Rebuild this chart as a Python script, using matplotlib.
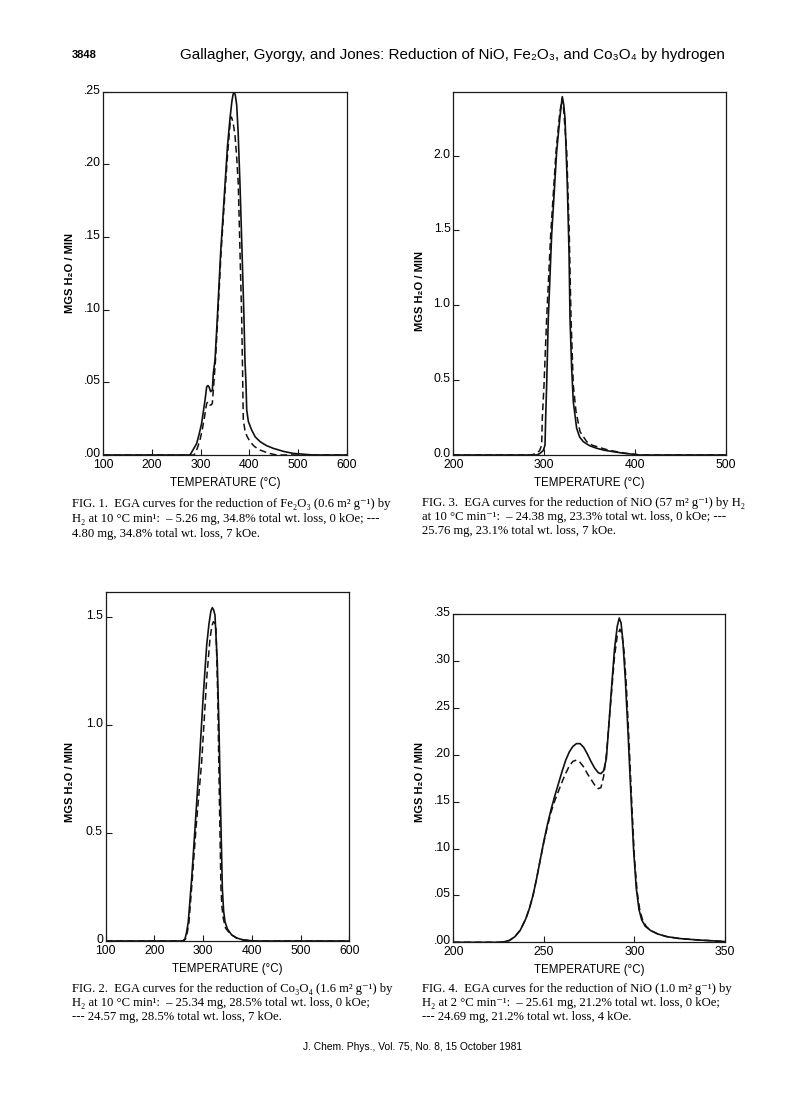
import matplotlib
matplotlib.use('Agg')
import matplotlib.pyplot as plt
import matplotlib.transforms as mtransforms

plt.rcParams['font.family'] = ['Liberation Sans', 'DejaVu Sans']

# ---- FIG. 1  Fe2O3 ----
fig1_t_solid = [100, 278, 281.6, 286, 291.9, 297, 302, 306, 309, 312.4, 315, 317, 320.6, 324, 326, 329.5,
                334.2, 341.2, 350, 355, 360.3, 364, 366.5, 368.5, 371, 374, 377, 380.8, 385, 389,
                391, 393, 394.6, 398, 404.8, 412, 422, 435, 449, 470, 490, 531, 600]
fig1_v_solid = [0, 0, 0.002, 0.0045, 0.008, 0.0145, 0.0218, 0.031, 0.0378, 0.047, 0.0478, 0.047, 0.0436, 0.0447,
                0.0562, 0.0654, 0.094, 0.140, 0.186, 0.212, 0.2317, 0.243, 0.248, 0.2496, 0.248, 0.241, 0.222,
                0.186, 0.140, 0.094, 0.065, 0.050, 0.031, 0.023, 0.0172, 0.0125, 0.0092, 0.0065, 0.0046,
                0.0025, 0.0011, 0, 0]
fig1_t_dash = [100, 286, 288.4, 293, 298.6, 303, 306.9, 312.4, 315.7, 319, 322, 324, 326, 330.5,
               335, 342, 351, 356, 361.7, 364, 367, 370.5, 374, 377.3, 380.8, 384.3, 386.3,
               387.6, 391, 395, 401.4, 410, 422, 440, 456, 600]
fig1_v_dash = [0, 0, 0.001, 0.0045, 0.0103, 0.017, 0.024, 0.0356, 0.0367, 0.0344, 0.0345, 0.0356, 0.0447,
               0.0654, 0.094, 0.140, 0.186, 0.210, 0.2328, 0.232, 0.228, 0.220, 0.205, 0.186, 0.140, 0.094,
               0.053, 0.024, 0.017, 0.013, 0.0092, 0.006, 0.0034, 0.0012, 0, 0]

# ---- FIG. 3  NiO 57 m2/g ----
fig3_t_solid = [200, 292, 295.4, 299, 300.9, 301.6, 302.7, 304.5, 308.2, 313.7, 317.5, 319.9,
                321.5, 322.9, 325.4, 327.3, 328.4, 330.2, 332, 335.7, 339, 343, 350, 357.7,
                366, 376, 387, 398, 405, 500]
fig3_v_solid = [0, 0, 0.011, 0.03, 0.067, 0.245, 0.468, 0.913, 1.47, 2.026, 2.27, 2.394,
                2.34, 2.249, 1.804, 1.358, 0.913, 0.579, 0.356, 0.178, 0.12, 0.089, 0.062, 0.045,
                0.032, 0.022, 0.012, 0.005, 0, 0]
fig3_t_dash = [200, 284.5, 288, 291.7, 295, 297.2, 297.9, 299.8, 302.7, 307.1, 313, 317, 319.6,
               321, 324.8, 327.6, 329.5, 332, 335, 339.4, 346.8, 353, 361.4, 370, 379.7,
               390, 400, 406, 500]
fig3_v_dash = [0, 0, 0.004, 0.011, 0.03, 0.067, 0.245, 0.468, 0.913, 1.47, 2.026, 2.28, 2.38,
               2.338, 2.026, 1.47, 0.913, 0.468, 0.29, 0.156, 0.089, 0.065, 0.049, 0.034, 0.022,
               0.011, 0.004, 0, 0]

# ---- FIG. 2  Co3O4 ----
fig2_t_solid = [100, 258, 262.8, 266, 269.5, 276.5, 283.3, 292.2, 300.3, 307.3, 312, 316, 318.8,
                321.5, 324.3, 329, 332.5, 336, 339.4, 342, 344.9, 350, 358.6, 370, 382.4, 405, 600]
fig2_v_solid = [0, 0, 0.01, 0.04, 0.089, 0.29, 0.522, 0.831, 1.14, 1.372, 1.47, 1.53, 1.545,
                1.535, 1.51, 1.294, 0.986, 0.599, 0.244, 0.14, 0.089, 0.055, 0.028, 0.013, 0.005, 0, 0]
fig2_t_dash = [100, 260, 264, 267.5, 271, 277.8, 285.3, 297, 307.3, 314, 318, 320.9, 323.5,
               326.4, 329.9, 333.2, 336.6, 338.5, 341.4, 346, 355, 368, 382, 405, 600]
fig2_v_dash = [0, 0, 0.01, 0.04, 0.089, 0.29, 0.522, 0.831, 1.217, 1.40, 1.46, 1.48, 1.475,
               1.449, 1.14, 0.677, 0.244, 0.16, 0.105, 0.06, 0.034, 0.014, 0.005, 0, 0]

# ---- FIG. 4  NiO 1.0 m2/g ----
fig4_t_solid = [200, 225, 228, 231, 234, 237, 240, 242, 244, 246, 248, 250, 252, 254, 256, 258,
                260, 262, 264, 266, 268, 270, 272, 274, 276, 278, 280, 281.5, 283, 284.5, 286,
                287.5, 289, 290.5, 291.6, 292.6, 293.6, 295, 296.5, 298, 299.5, 301, 302.5,
                304, 306, 309, 313, 318, 325, 335, 350]
fig4_v_solid = [0, 0, 0.0005, 0.002, 0.006, 0.013, 0.025, 0.036, 0.05, 0.068, 0.088, 0.108, 0.126,
                0.142, 0.156, 0.169, 0.182, 0.194, 0.203, 0.209, 0.212, 0.212, 0.208, 0.201, 0.193,
                0.186, 0.181, 0.180, 0.183, 0.196, 0.235, 0.275, 0.313, 0.337, 0.346, 0.341, 0.322,
                0.28, 0.222, 0.16, 0.100, 0.058, 0.035, 0.024, 0.017, 0.0125, 0.0088, 0.006, 0.004,
                0.0025, 0.0008]
fig4_t_dash = [200, 225, 228, 231, 234, 237, 240, 242, 244, 246, 248, 250, 252, 254, 256, 258,
               260, 262, 264, 266, 268, 270, 272, 274, 276, 278, 280, 281.5, 283, 284.5, 286,
               287.5, 289, 290.5, 292, 293, 294.3, 295.5, 297, 298.5, 300, 301.5, 303,
               304.5, 306.5, 309, 313, 318, 325, 335, 350]
fig4_v_dash = [0, 0, 0.0005, 0.002, 0.006, 0.013, 0.025, 0.036, 0.05, 0.068, 0.088, 0.107, 0.124,
               0.139, 0.151, 0.161, 0.171, 0.180, 0.188, 0.193, 0.1945, 0.192, 0.187, 0.180, 0.174,
               0.168, 0.164, 0.165, 0.177, 0.20, 0.235, 0.27, 0.305, 0.327, 0.334, 0.330, 0.31,
               0.275, 0.215, 0.15, 0.09, 0.054, 0.034, 0.024, 0.017, 0.0125, 0.0088, 0.006, 0.004,
               0.0025, 0.0008]

# ticks and labels
fig1_xticks = [100, 200, 300, 400, 500, 600]
fig1_yticks = [0, 0.05, 0.10, 0.15, 0.20, 0.25]
fig1_ylabels = ['.00', '.05', '.10', '.15', '.20', '.25']
fig3_xticks = [200, 300, 400, 500]
fig3_yticks = [0, 0.5, 1.0, 1.5, 2.0]
fig3_ylabels = ['0.0', '0.5', '1.0', '1.5', '2.0']
fig2_xticks = [100, 200, 300, 400, 500, 600]
fig2_yticks = [0, 0.5, 1.0, 1.5]
fig2_ylabels = ['0', '0.5', '1.0', '1.5']
fig4_xticks = [200, 250, 300, 350]
fig4_yticks = [0, 0.05, 0.10, 0.15, 0.20, 0.25, 0.30, 0.35]
fig4_ylabels = ['.00', '.05', '.10', '.15', '.20', '.25', '.30', '.35']

cap1 = ("FIG. 1.  EGA curves for the reduction of Fe\u2082O\u2083 (0.6 m\u00b2 g\u207b\u00b9) by\n"
        "H\u2082 at 10 \u00b0C min\u00b9:  \u2013 5.26 mg, 34.8% total wt. loss, 0 kOe; ---\n"
        "4.80 mg, 34.8% total wt. loss, 7 kOe.")
cap3 = ("FIG. 3.  EGA curves for the reduction of NiO (57 m\u00b2 g\u207b\u00b9) by H\u2082\n"
        "at 10 \u00b0C min\u207b\u00b9:  \u2013 24.38 mg, 23.3% total wt. loss, 0 kOe; ---\n"
        "25.76 mg, 23.1% total wt. loss, 7 kOe.")
cap2 = ("FIG. 2.  EGA curves for the reduction of Co\u2083O\u2084 (1.6 m\u00b2 g\u207b\u00b9) by\n"
        "H\u2082 at 10 \u00b0C min\u00b9:  \u2013 25.34 mg, 28.5% total wt. loss, 0 kOe;\n"
        "--- 24.57 mg, 28.5% total wt. loss, 7 kOe.")
cap4 = ("FIG. 4.  EGA curves for the reduction of NiO (1.0 m\u00b2 g\u207b\u00b9) by\n"
        "H\u2082 at 2 \u00b0C min\u207b\u00b9:  \u2013 25.61 mg, 21.2% total wt. loss, 0 kOe;\n"
        "--- 24.69 mg, 21.2% total wt. loss, 4 kOe.")

W, H = 812, 1096
fig = plt.figure(figsize=(W / 100, H / 100), dpi=100)
lift = mtransforms.ScaledTranslation(0, 0.025, fig.dpi_scale_trans)


def make_ax(left, top, right, bottom):
    return fig.add_axes([left / W, 1 - bottom / H, (right - left) / W, (bottom - top) / H])


def style(ax, xlim, ylim, xticks, yticks, ylabels, lab_xy):
    ax.set_xlim(*xlim)
    ax.set_ylim(*ylim)
    ax.set_xticks(xticks)
    ax.set_xticklabels([str(t) for t in xticks])
    ax.set_yticks(yticks)
    ax.set_yticklabels(ylabels)
    ax.tick_params(direction='in', length=4.5, width=0.8, labelsize=8.8, color='#1a1a1a')
    ax.tick_params(axis='x', pad=3)
    ax.tick_params(axis='y', pad=2)
    for lab in ax.get_yticklabels():
        lab.set_transform(lab.get_transform() + lift)
    for s in ax.spines.values():
        s.set_linewidth(0.9)
        s.set_color('#1a1a1a')
    ax.set_xlabel('TEMPERATURE (\u00b0C)', fontsize=8.3, labelpad=4)
    ax.set_ylabel('MGS H\u2082O / MIN', fontsize=8, fontweight='bold')
    ax.yaxis.set_label_coords(*lab_xy)


def curves(ax, ts, vs, td, vd):
    ax.plot(ts, vs, color='#111111', lw=1.2, solid_joinstyle='round')
    ax.plot(td, vd, color='#111111', lw=1.1, linestyle=(0, (4.5, 2.5)))


ax1 = make_ax(103.3, 91.7, 346.7, 455)
curves(ax1, fig1_t_solid, fig1_v_solid, fig1_t_dash, fig1_v_dash)
style(ax1, (100, 600), (0, 0.25), fig1_xticks, fig1_yticks, fig1_ylabels, (-0.116, 0.5))

ax3 = make_ax(453.3, 91.7, 726, 455)
curves(ax3, fig3_t_solid, fig3_v_solid, fig3_t_dash, fig3_v_dash)
style(ax3, (200, 500), (0, 2.427), fig3_xticks, fig3_yticks, fig3_ylabels, (-0.104, 0.452))

ax2 = make_ax(105.7, 591.7, 349.3, 941)
curves(ax2, fig2_t_solid, fig2_v_solid, fig2_t_dash, fig2_v_dash)
style(ax2, (100, 600), (0, 1.619), fig2_xticks, fig2_yticks, fig2_ylabels, (-0.126, 0.455))

ax4 = make_ax(453.3, 614.3, 725, 942.3)
curves(ax4, fig4_t_solid, fig4_v_solid, fig4_t_dash, fig4_v_dash)
style(ax4, (200, 350), (0, 0.35), fig4_xticks, fig4_yticks, fig4_ylabels, (-0.104, 0.49))

# page header / footer
fig.text(72 / W, 1 - 55 / H, '3848', fontsize=8, fontweight='bold', va='center', ha='left')
fig.text(452 / W, 1 - 55 / H,
         'Gallagher, Gyorgy, and Jones: Reduction of NiO, Fe\u2082O\u2083, and Co\u2083O\u2084 by hydrogen',
         fontsize=11, va='center', ha='center')
fig.text(412.5 / W, 1 - 1047 / H, 'J. Chem. Phys., Vol. 75, No. 8, 15 October 1981',
         fontsize=7.4, va='center', ha='center')

serif = ['Liberation Serif', 'DejaVu Serif']
for cap, x, y, ls in [(cap1, 72, 498, 1.32), (cap3, 422, 497, 1.2),
                      (cap2, 72, 983, 1.2), (cap4, 422, 983, 1.2)]:
    fig.text(x / W, 1 - y / H, cap, family=serif, fontsize=9.1, va='top', ha='left',
             linespacing=ls)

fig.savefig('out.png', dpi=100)
